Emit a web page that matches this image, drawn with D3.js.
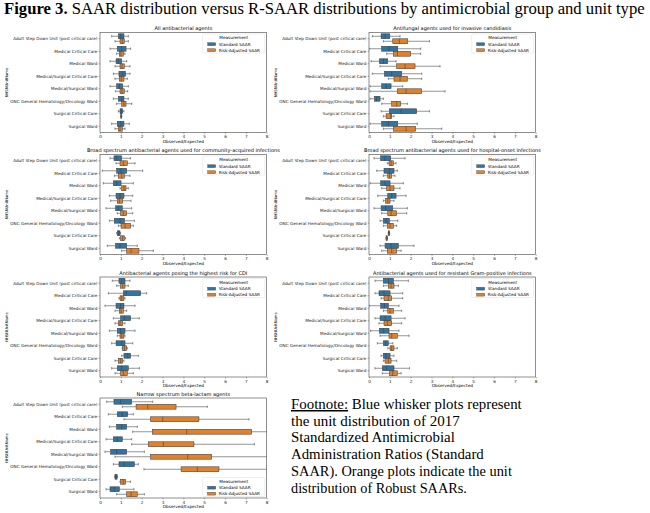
<!DOCTYPE html>
<html>
<head>
<meta charset="utf-8">
<script src="https://cdn.jsdelivr.net/npm/d3@7"></script>
<style>
  body { margin: 0; background: #fff; }
  .small text, text.small { font-family: "DejaVu Sans", sans-serif; }
</style>
</head>
<body>
<div id="chart"></div>
<script>
const units = [
  'Adult Step Down Unit (post critical care)',
  'Medical Critical Care',
  'Medical Ward',
  'Medical/Surgical Critical Care',
  'Medical/Surgical Ward',
  'ONC General Hematology/Oncology Ward',
  'Surgical Critical Care',
  'Surgical Ward'
];
const series = ['Standard SAAR', 'Risk-Adjusted SAAR'];
const xTicks = [0, 1, 2, 3, 4, 5, 6, 7, 8];
const panelTitles = [
  'All antibacterial agents',
  'Antifungal agents used for invasive candidiasis',
  'Broad spectrum antibacterial agents used for community-acquired infections',
  'Broad spectrum antibacterial agents used for hospital-onset infections',
  'Antibacterial agents posing the highest risk for CDI',
  'Antibacterial agents used for resistant Gram-positive infections',
  'Narrow spectrum beta-lactam agents'
];

// each row: [whisker low, q1, median, q3, whisker high], one row per unit
const allStd = [
  [0.56, 0.88, 1.00, 1.15, 1.36], [0.48, 0.83, 1.04, 1.25, 1.47],
  [0.48, 0.77, 0.88, 1.04, 1.28], [0.64, 0.91, 1.09, 1.23, 1.44],
  [0.48, 0.80, 0.93, 1.09, 1.36], [0.64, 0.88, 1.04, 1.15, 1.36],
  [0.88, 0.96, 1.02, 1.09, 1.15], [0.56, 0.83, 1.00, 1.15, 1.41]
];
const allRisk = [
  [0.72, 0.96, 1.07, 1.17, 1.36], [0.80, 0.93, 1.00, 1.12, 1.20],
  [0.72, 0.96, 1.06, 1.17, 1.44], [0.72, 0.93, 1.02, 1.15, 1.31],
  [0.75, 0.96, 1.06, 1.17, 1.33], [0.80, 1.04, 1.15, 1.25, 1.52],
  [0.99, 1.00, 1.02, 1.03, 1.05], [0.72, 0.88, 0.96, 1.07, 1.20]
];
const fungalStd = [
  [0.16, 0.58, 0.77, 1.00, 1.49], [0.00, 0.61, 0.96, 1.38, 2.48],
  [0.10, 0.50, 0.69, 0.90, 1.30], [0.16, 0.74, 1.09, 1.57, 2.53],
  [0.05, 0.61, 0.82, 1.06, 1.62], [0.05, 0.26, 0.37, 0.53, 0.69],
  [0.58, 0.98, 1.54, 2.29, 2.90], [0.05, 0.61, 0.93, 1.38, 2.32]
];
const fungalRisk = [
  [0.69, 1.14, 1.46, 1.86, 2.90], [0.85, 1.17, 1.36, 2.00, 2.48],
  [0.53, 1.33, 1.73, 2.21, 3.41], [0.93, 1.20, 1.49, 1.84, 2.53],
  [0.05, 1.36, 1.78, 2.53, 3.65], [0.61, 1.09, 1.33, 1.52, 1.84],
  [0.69, 0.82, 1.04, 1.09, 1.20], [0.69, 1.17, 1.78, 2.24, 3.49]
];
const commStd = [
  [0.48, 0.67, 0.80, 1.04, 1.47], [0.11, 0.80, 1.00, 1.28, 2.05],
  [0.16, 0.64, 0.80, 1.01, 1.60], [0.45, 0.77, 0.96, 1.15, 1.57],
  [0.29, 0.75, 0.88, 1.07, 1.52], [0.45, 0.69, 0.96, 1.17, 1.65],
  [0.80, 0.83, 0.90, 0.96, 0.99], [0.35, 0.75, 0.96, 1.28, 1.79]
];
const commRisk = [
  [0.77, 0.96, 1.12, 1.31, 1.68], [0.69, 0.88, 1.04, 1.17, 1.44],
  [0.96, 1.04, 1.15, 1.25, 1.36], [0.51, 0.83, 0.93, 1.09, 1.49],
  [0.83, 0.99, 1.12, 1.28, 1.57], [0.88, 1.01, 1.20, 1.47, 1.60],
  [0.93, 0.99, 1.09, 1.17, 1.23], [1.04, 1.28, 1.49, 1.87, 2.56]
];
const hospStd = [
  [0.24, 0.56, 0.77, 1.04, 1.73], [0.37, 0.72, 0.98, 1.20, 1.36],
  [0.05, 0.56, 0.77, 1.01, 1.65], [0.42, 0.90, 1.09, 1.30, 1.78],
  [0.24, 0.58, 0.80, 1.14, 1.84], [0.53, 0.69, 0.82, 0.98, 1.38],
  [0.92, 0.93, 0.96, 0.98, 0.99], [0.53, 0.77, 1.06, 1.41, 2.16]
];
const hospRisk = [
  [0.88, 0.96, 1.06, 1.17, 1.30], [0.69, 0.90, 0.98, 1.09, 1.25],
  [0.61, 0.85, 1.01, 1.20, 1.49], [0.69, 0.80, 0.90, 1.01, 1.20],
  [0.61, 0.90, 1.06, 1.33, 1.81], [0.69, 0.88, 1.01, 1.17, 1.33],
  [0.81, 0.82, 0.85, 0.88, 0.89], [0.61, 0.88, 1.09, 1.33, 1.54]
];
const cdiStd = [
  [0.59, 0.91, 1.04, 1.20, 1.44], [0.40, 1.12, 1.25, 1.95, 2.24],
  [0.24, 0.77, 0.99, 1.15, 1.68], [0.64, 0.99, 1.17, 1.47, 1.89],
  [0.45, 0.83, 0.99, 1.20, 1.68], [0.56, 0.77, 1.04, 1.20, 1.57],
  [1.04, 1.15, 1.33, 1.47, 1.84], [0.56, 0.83, 1.04, 1.36, 1.89]
];
const cdiRisk = [
  [0.80, 0.99, 1.09, 1.20, 1.36], [0.91, 0.96, 1.04, 1.15, 1.20],
  [0.72, 0.93, 1.01, 1.12, 1.28], [0.72, 0.88, 0.96, 1.09, 1.20],
  [0.83, 0.96, 1.04, 1.15, 1.20], [1.06, 1.09, 1.17, 1.28, 1.31],
  [0.72, 0.88, 0.99, 1.09, 1.15], [0.72, 0.99, 1.12, 1.31, 1.60]
];
const gramStd = [
  [0.29, 0.69, 0.93, 1.17, 1.89], [0.29, 0.48, 0.72, 1.01, 1.62],
  [0.00, 0.56, 0.74, 0.93, 1.44], [0.29, 0.53, 0.77, 1.06, 1.73],
  [0.08, 0.50, 0.69, 0.96, 1.44], [0.40, 0.69, 0.80, 0.93, 1.14],
  [0.58, 0.69, 0.82, 1.01, 1.20], [0.29, 0.64, 0.85, 1.20, 1.94]
];
const gramRisk = [
  [0.69, 0.93, 1.06, 1.20, 1.41], [0.58, 0.72, 0.93, 1.09, 1.62],
  [0.69, 0.90, 1.01, 1.17, 1.57], [0.48, 0.72, 0.88, 1.09, 1.57],
  [0.53, 0.96, 1.09, 1.36, 1.92], [0.90, 1.01, 1.09, 1.20, 1.36],
  [0.69, 0.77, 0.93, 1.06, 1.33], [0.64, 0.98, 1.14, 1.36, 1.54]
];
const narrowStd = [
  [0.32, 0.67, 0.99, 1.52, 2.53], [0.40, 0.83, 1.07, 1.33, 1.60],
  [0.45, 0.80, 1.04, 1.28, 1.79], [0.29, 0.64, 0.83, 1.07, 1.52],
  [0.24, 0.51, 0.80, 1.28, 2.13], [0.64, 0.91, 1.15, 1.65, 1.84],
  [0.70, 0.72, 0.77, 0.82, 0.84], [0.29, 0.48, 0.69, 0.93, 1.63]
];
const narrowRisk = [
  [1.07, 1.73, 2.29, 3.65, 5.15], [1.15, 2.43, 3.01, 4.75, 7.15],
  [1.57, 2.51, 4.16, 7.28, 8.90], [1.52, 2.32, 3.04, 4.51, 7.41],
  [0.72, 2.43, 4.21, 5.36, 8.60], [2.11, 3.89, 4.67, 5.71, 8.80],
  [0.96, 0.99, 1.12, 1.23, 1.47], [0.80, 1.28, 1.49, 1.79, 2.13]
];

const footnote = [
  'Blue whisker plots represent',
  'the unit distribution of 2017',
  'Standardized Antimicrobial',
  'Administration Ratios (Standard',
  'SAAR). Orange plots indicate the unit',
  'distribution of Robust SAARs.'
];

const panels = [
  {std: allStd, risk: allRisk, col: 0, row: 0, legend: 'top'},
  {std: fungalStd, risk: fungalRisk, col: 1, row: 0, legend: 'top'},
  {std: commStd, risk: commRisk, col: 0, row: 1, legend: 'top'},
  {std: hospStd, risk: hospRisk, col: 1, row: 1, legend: 'top'},
  {std: cdiStd, risk: cdiRisk, col: 0, row: 2, legend: 'top'},
  {std: gramStd, risk: gramRisk, col: 1, row: 2, legend: 'top'},
  {std: narrowStd, risk: narrowRisk, col: 0, row: 3, legend: 'bottom'}
];

const width = 650, height = 513;
const colX = [100, 369];
const rowY = [32.5, 154.5, 277, 398];
const pw = 166.7, ph = 100;
const fs = 4.2;
const lineColor = '#3d3d3d';
const color = d3.scaleOrdinal().domain(series).range(['#3274a1', '#e1812c']);

const svg = d3.select('#chart')
  .append('svg')
  .attr('width', width)
  .attr('height', height);

// Figure title
const title = svg.append('text')
  .attr('font-family', '"Liberation Serif", serif')
  .attr('font-size', 16)
  .attr('fill', '#000');
title.append('tspan').attr('font-weight', 'bold').text('Figure 3.');
title.append('tspan').text(' SAAR distribution versus R-SAAR distributions by antimicrobial group and unit type');
const tw = title.node().getComputedTextLength();
title.attr('transform', `translate(4,13.5) scale(${641 / tw},1)`);

const x = d3.scaleLinear().domain([0, 8]).range([0, pw]);
const y = d3.scaleBand().domain(units).range([0, ph]);
const hue = d3.scaleBand().domain(series)
  .range([y.bandwidth() * 0.1, y.bandwidth() * 0.9]);
const bh = hue.bandwidth() * 0.98;

svg.append('defs').append('clipPath')
  .attr('id', 'plotclip')
  .append('rect')
  .attr('width', pw)
  .attr('height', ph);

panels.forEach((p, i) => {
  const g = svg.append('g')
    .attr('class', 'small')
    .attr('transform', `translate(${colX[p.col]},${rowY[p.row]})`);

  // title
  g.append('text')
    .attr('x', pw / 2)
    .attr('y', -2.4)
    .attr('text-anchor', 'middle')
    .attr('font-size', 5.0)
    .text(panelTitles[i]);

  // boxes
  const marks = g.append('g').attr('clip-path', 'url(#plotclip)');
  const rows = [];
  units.forEach((u, k) => {
    rows.push({unit: u, s: series[0], v: p.std[k]});
    rows.push({unit: u, s: series[1], v: p.risk[k]});
  });
  const box = marks.selectAll('g.box')
    .data(rows)
    .enter()
    .append('g')
    .attr('class', 'box')
    .attr('transform', d => `translate(0,${y(d.unit) + hue(d.s) + hue.bandwidth() / 2})`);

  box.append('line')
    .attr('x1', d => x(d.v[0])).attr('x2', d => x(d.v[1]))
    .attr('stroke', lineColor).attr('stroke-width', 0.55);
  box.append('line')
    .attr('x1', d => x(d.v[3])).attr('x2', d => x(d.v[4]))
    .attr('stroke', lineColor).attr('stroke-width', 0.55);
  box.append('line')
    .attr('x1', d => x(d.v[0])).attr('x2', d => x(d.v[0]))
    .attr('y1', -bh / 4).attr('y2', bh / 4)
    .attr('stroke', lineColor).attr('stroke-width', 0.55);
  box.append('line')
    .attr('x1', d => x(d.v[4])).attr('x2', d => x(d.v[4]))
    .attr('y1', -bh / 4).attr('y2', bh / 4)
    .attr('stroke', lineColor).attr('stroke-width', 0.55);
  box.append('rect')
    .attr('x', d => x(d.v[1]))
    .attr('y', -bh / 2)
    .attr('width', d => x(d.v[3]) - x(d.v[1]))
    .attr('height', bh)
    .attr('fill', d => color(d.s))
    .attr('stroke', lineColor)
    .attr('stroke-width', 0.55);
  box.append('line')
    .attr('x1', d => x(d.v[2])).attr('x2', d => x(d.v[2]))
    .attr('y1', -bh / 2).attr('y2', bh / 2)
    .attr('stroke', lineColor).attr('stroke-width', 0.55);

  // axes
  const xAxis = d3.axisBottom(x).tickValues(xTicks).tickSize(1.4).tickSizeOuter(0).tickPadding(1.2);
  const gx = g.append('g')
    .attr('transform', `translate(0,${ph})`)
    .call(xAxis);
  const yAxis = d3.axisLeft(y).tickSize(1.4).tickSizeOuter(0).tickPadding(1.2);
  const gy = g.append('g').call(yAxis);
  [gx, gy].forEach(a => {
    a.attr('font-size', fs).attr('font-family', '"DejaVu Sans", sans-serif');
    a.select('.domain').remove();
    a.selectAll('line').attr('stroke', '#333').attr('stroke-width', 0.4);
    a.selectAll('text').attr('fill', '#222');
  });

  g.append('rect')
    .attr('width', pw)
    .attr('height', ph)
    .attr('fill', 'none')
    .attr('stroke', '#444')
    .attr('stroke-width', 0.6);

  g.append('text')
    .attr('x', pw / 2)
    .attr('y', ph + 10.3)
    .attr('text-anchor', 'middle')
    .attr('font-size', fs)
    .text('Observed/Expected');

  g.append('text')
    .attr('transform', `translate(${-92},${ph / 2}) rotate(-90)`)
    .attr('text-anchor', 'middle')
    .attr('font-size', fs * 0.9)
    .text('NHSNUnitName');

  // legend
  const ly = p.legend === 'top' ? 1.5 : ph - 20.5;
  const lg = g.append('g').attr('transform', `translate(${pw - 64},${ly})`);
  lg.append('rect')
    .attr('width', 62).attr('height', 19).attr('rx', 0.8)
    .attr('fill', '#fff').attr('fill-opacity', 0.8)
    .attr('stroke', '#d6d6d6').attr('stroke-width', 0.4);
  lg.append('text')
    .attr('x', 31).attr('y', 5.2)
    .attr('text-anchor', 'middle')
    .attr('font-size', fs)
    .text('Measurement');
  const items = lg.selectAll('g.item')
    .data(series)
    .enter()
    .append('g')
    .attr('transform', (d, k) => `translate(0,${10.2 + k * 6})`);
  items.append('rect')
    .attr('x', 5).attr('y', -1.4)
    .attr('width', 8).attr('height', 2.8)
    .attr('fill', d => color(d))
    .attr('stroke', lineColor).attr('stroke-width', 0.4);
  items.append('text')
    .attr('x', 16).attr('y', 1.5)
    .attr('font-size', fs)
    .text(d => d);
});

// Footnote
const fn = svg.append('g')
  .attr('font-family', '"Liberation Serif", serif')
  .attr('font-size', 15)
  .attr('fill', '#000');
const fnWidths = [231, 169, 164, 193, 221, 176];
footnote.forEach((line, k) => {
  const t = fn.append('text');
  if (k === 0) {
    t.append('tspan').attr('text-decoration', 'underline').text('Footnote:');
    t.append('tspan').text(' ' + line);
  } else {
    t.text(line);
  }
  const w = t.node().getComputedTextLength();
  t.attr('transform', `translate(291,${409 + k * 16.7}) scale(${fnWidths[k] / w},1)`);
});
</script>
</body>
</html>
